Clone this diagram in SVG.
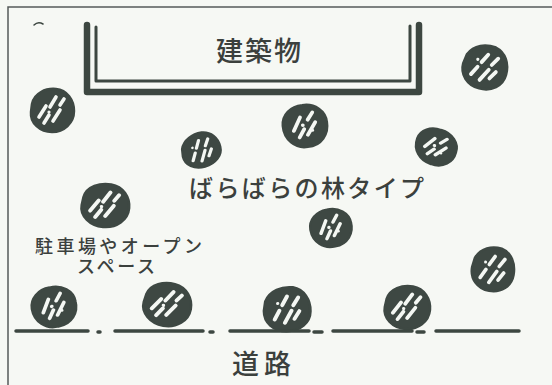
<svg xmlns="http://www.w3.org/2000/svg" xmlns:xlink="http://www.w3.org/1999/xlink" width="552" height="385" viewBox="0 0 552 385">
  <style>
    .ink { fill: none; stroke: #3d4741; stroke-linecap: round; stroke-linejoin: round; }
    .frame { fill: none; stroke: #55595a; stroke-width: 1.5; }
    .label { font-family: "Noto Sans CJK JP", "Noto Sans", sans-serif; font-weight: 500; fill: #3b403d; }
    .small { font-family: "Liberation Sans", "Noto Sans CJK JP", sans-serif; font-weight: 500; fill: #3b403d; }
    .crown { fill: #3e4843; stroke: #3e4843; stroke-width: 2.5; stroke-linejoin: round; }
    .hatch { fill: none; stroke: #f4f7f3; stroke-width: 3.6; stroke-linecap: round; }
    .fleck { fill: #f4f7f3; }
  </style>
  <defs>
    <!-- hand-drawn tree crowns seen from above, roughly 22px radius -->
    <g id="crown-a">
      <path class="crown" d="M-20,-6 C-18,-17 -6,-22 4,-21 C15,-20 22,-10 22,1 C22,13 12,22 0,22 C-12,22 -22,13 -21,2 Z"/>
      <path class="hatch" d="M-13,7 L-6,-4 M-8,13 L-3,5 M-2,-3 L4,-13 M1,11 L8,0 M8,-5 L12,-11"/>
      <circle class="fleck" cx="-3" cy="2" r="1.6"/>
    </g>
    <g id="crown-b">
      <path class="crown" d="M-21,-2 C-21,-13 -12,-21 -1,-21 C11,-22 21,-13 21,-2 C22,10 14,21 1,21 C-11,22 -21,12 -21,-2 Z"/>
      <path class="hatch" d="M-11,4 L-4,-9 M-6,11 L-1,3 M3,-6 L8,-13 M2,9 L10,-3"/>
      <circle class="fleck" cx="-2" cy="-1" r="1.8"/>
      <circle class="fleck" cx="7" cy="5" r="1.4"/>
    </g>
    <g id="crown-c">
      <path class="crown" d="M-19,-9 C-14,-19 -3,-22 7,-20 C17,-17 22,-7 21,4 C20,15 10,22 -2,21 C-14,20 -22,11 -21,0 Z"/>
      <path class="hatch" d="M-12,9 L-7,1 M-4,-4 L1,-12 M-3,13 L4,2 M6,-3 L11,-10 M6,10 L11,3"/>
      <circle class="fleck" cx="-8" cy="-6" r="1.5"/>
    </g>
  </defs>

  <rect width="552" height="385" fill="#f6f8f4"/>

  <!-- sheet border -->
  <path class="frame" d="M8,385 V7 H552"/>
  <path class="ink" stroke-width="1.5" d="M34,25 Q38,21 43,24"/>

  <!-- building outline (double wall line) -->
  <g id="building">
    <path class="ink" stroke-width="6.5" d="M87,25 V92 H419 V25"/>
    <path class="ink" stroke-width="3" d="M96,27 V81 H410 V26"/>
    <text class="label" x="216" y="61" font-size="27" textLength="85">建築物</text>
  </g>

  <!-- trees -->
  <g id="tree-1"><use xlink:href="#crown-a" transform="translate(52,110)"/></g>
  <g id="tree-2"><use xlink:href="#crown-c" transform="translate(485,67) rotate(10) scale(1.05)"/></g>
  <g id="tree-3"><use xlink:href="#crown-b" transform="translate(305,126) rotate(-5) scale(1.05,1.0)"/></g>
  <g id="tree-4"><use xlink:href="#crown-c" transform="translate(201,150) rotate(-20) scale(0.92,0.82)"/></g>
  <g id="tree-5"><use xlink:href="#crown-b" transform="translate(436,147) rotate(20) scale(0.98,0.85)"/></g>
  <g id="tree-6"><use xlink:href="#crown-a" transform="translate(105,205) rotate(5) scale(1.1,1.0)"/></g>
  <g id="tree-7"><use xlink:href="#crown-b" transform="translate(331,228) rotate(-10) scale(0.98,0.9)"/></g>
  <g id="tree-8"><use xlink:href="#crown-c" transform="translate(493,269) rotate(5) scale(1.0,1.05)"/></g>
  <g id="tree-9"><use xlink:href="#crown-b" transform="translate(54,307) rotate(-10) scale(1.05,0.95)"/></g>
  <g id="tree-10"><use xlink:href="#crown-a" transform="translate(167,304) rotate(10) scale(1.1,1.0)"/></g>
  <g id="tree-11"><use xlink:href="#crown-c" transform="translate(287,309) rotate(-5) scale(1.1,1.05)"/></g>
  <g id="tree-12"><use xlink:href="#crown-a" transform="translate(407,307) rotate(5) scale(1.05,1.0)"/></g>

  <!-- road edge, broken line -->
  <g id="road-edge">
    <path class="ink" stroke-width="3.5" d="M16,331 H88 M98,332 H100 M115,331 H203 M210,332 H213 M230,331 H309 M314,332 H322 M333,331 H412 M417,332 H424 M436,331 H519"/>
  </g>

  <!-- labels -->
  <text class="label" x="189" y="197" font-size="24" textLength="235">ばらばらの林タイプ</text>
  <text class="small" x="35" y="253" font-size="18" textLength="167">駐車場やオープン</text>
  <text class="small" x="77" y="273" font-size="18" textLength="78">スペース</text>
  <text class="label" x="232" y="374" font-size="27" textLength="59">道路</text>
</svg>
